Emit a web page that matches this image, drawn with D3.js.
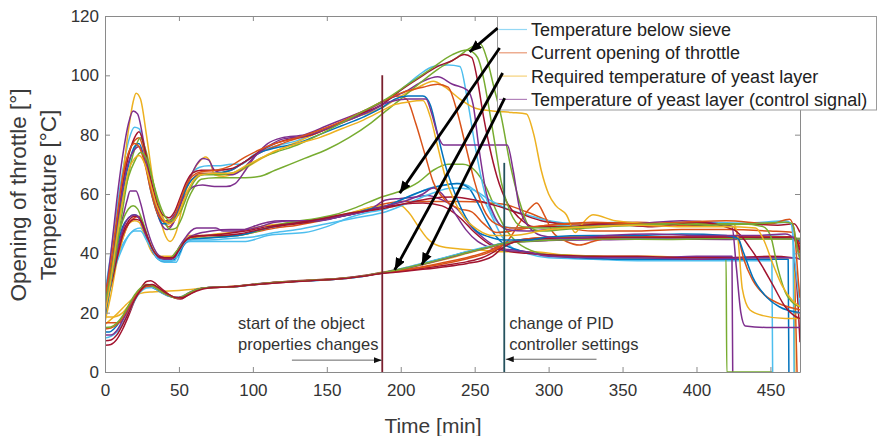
<!DOCTYPE html>
<html><head><meta charset="utf-8">
<script src="https://cdn.jsdelivr.net/npm/d3@7"></script>
<style>body{margin:0;background:#fff}svg{display:block}text{font-family:"Liberation Sans",Arial,Helvetica,sans-serif}</style>
</head><body><svg id="c" width="878" height="436"></svg>
<script>
// ---------- data ----------
const xTicks = [0,50,100,150,200,250,300,350,400,450];
const yTicks = [0,20,40,60,80,100,120];
const seriesNames = ["Temperature below sieve","Current opening of throttle","Required temperature of yeast layer","Temperature of yeast layer (control signal)"];
const legendColors = ["#4DBEEE","#D95319","#EDB120","#7E2F8E"];

// Temperature below sieve (one flat [t,v,t,v,...] list per run)
const sieveTemp = [
[0,27,4,40,8,55,12,68,16,78,20,82.5,23,82,27,74,31,63,35,55,39,51,43,50.5,47,52,51,57,55,63,59,67,64,69,70,69.5,78,69.5,85,70,92,70,100,73,108,75,118,76.5,130,78,145,81,160,84,175,87,187,90,200,95,212,100,222,103,232,103.5,240,103,245,92,250,77,256,62,262,53,270,49,280,48.5,300,49,330,50,360,49.5,390,50.5,420,50,445,50.5,460,51,464,50,467,35,470,22],
[0,22,4,34,8,50,12,64,16,74,20,78,23,79,27,73,31,63,35,55,39,51,43,49,47,51,51,56,55,62,59,65,65,67,75,67,85,68,95,71,105,74,115,76,125,78,140,80,155,83,170,86,187,91,198,93,204,92,210,84,216,74,222,64,230,58,240,55,248,54,256,50,265,47,280,48,300,49.5,330,50,360,50.5,390,49.5,410,50,425,49,428,46,432,38,438,31,446,26,456,23,470,21],
[0,18,4,30,8,48,12,66,16,82,19,91,21,94,24,92,28,80,32,66,36,55,40,47,44,44,48,47,52,55,56,63,60,68,64,71,68,72.5,71,71,74,66.5,80,66,88,67,96,69,106,72,118,75,132,78,150,82,170,86,187,89,200,93,212,96,222,98,230,96,240,92,250,89,262,88,275,87.5,285,87,290,80,295,68,300,60,305,56,312,53,318,47,322,49.5,330,53,345,51,370,50,400,50,425,50,428,45,431,28,436,21,445,19,460,18,470,18],
[0,24,4,40,8,58,12,73,16,84,19,88,22,87,26,78,30,66,34,56,38,50,42,48,46,50,50,55,54,61,58,66,62,70,66,72,70,71.5,74,68,80,67,86,66.5,92,68,100,72,110,77,120,79,135,80,150,83,165,86,180,89,192,92,205,95,215,98,225,99.5,235,97,245,95,249,90,253,75,258,60,264,52,272,48,285,47.5,300,48,330,49.5,360,50,390,51,415,50,424,49,427,35,430,20,433,15.5,450,15,470,15],
[0,22,4,30,8,42,12,55,16,67,20,75,24,79,28,74,32,65,36,57,40,51,44,48,48,48.5,52,52,56,58,60,62,65,65,75,65.5,85,65.5,95,65.5,105,66,115,68,125,70,135,72,150,75,165,79,180,84,190,88,200,92,212,97,225,102,238,106,248,109.5,254,110.5,258,106,263,96,268,86,274,70,280,58,287,49,295,47.5,310,48,340,49,370,49.5,400,50,430,50,445,49,450,46,455,35,460,27,466,23,470,22],
[0,19,4,30,8,46,12,60,16,70,20,76,23,77,27,71,31,61,35,54,39,50,43,50,47,52,51,57,55,62,59,65,65,66.5,75,67,85,68,95,71,105,74,115,75.5,130,77,145,80,160,83,175,86,187,89,196,92,205,93,215,93,220,90,225,80,230,70,236,61,242,54,250,48,260,45.5,270,44.5,285,44.5,300,45.5,330,46,360,46,390,46.5,420,46,428,45,432,40,438,32,446,26,456,22,470,20],
[0,20,4,32,8,48,12,63,16,73,20,79,23,81,27,75,31,65,35,57,39,53,43,52,47,54,51,59,55,64,59,67,65,68,75,68,85,68.5,95,71,105,74.5,115,77,125,78.5,140,80,155,83,170,86.5,187,90,200,95,212,99,225,103,235,105,243,107,248,106,252,98,256,86,260,76,265,66,272,57,280,52,290,49,310,49,340,50,370,49,400,50.5,425,48,430,46,436,42,444,36,452,29,460,22,466,19,470,18],
[0,21,4,33,8,48,12,62,16,71,20,75,23,76,27,71,31,62,35,55,39,51,43,51,47,53,51,57,55,60,60,62.5,66,63,74,62.5,82,62.5,88,63.5,95,68,102,73,110,76,120,78.5,135,79.5,150,82,165,85,180,88,192,91,205,92,217,92,221,87,225,80,229,76.5,240,76.5,255,76.5,272,76.5,276,68,280,56,285,50,295,46,310,45,340,46,370,46.5,400,46,440,46,460,46.5,466,45,470,38],
[0,25,4,37,8,52,12,66,16,74,20,77,23,76,27,70,31,61,35,54,39,51,43,50.5,47,52.5,51,58,55,63,59,66,65,67.5,75,68,85,69.5,95,72.5,105,75,115,77,130,79,145,81.5,160,84.5,175,88,187,91,200,94,215,96,225,97,232,96,238,88,244,76,250,64,256,55,264,50,275,48.5,300,49.5,330,50.5,360,50,390,50.5,420,51,450,50,463,51.5,466,48,469,30,470,25],
[0,23,4,33,8,46,12,58,16,66,20,71,24,74,28,72,32,65,36,58,40,53,44,51,48,52,52,55,56,60,60,64,66,66.5,75,66.5,85,67,95,69,105,72,115,74,130,76.5,145,80,160,84,175,88,190,92,205,97,220,102,235,107,245,108.5,252,106,256,99,260,88,264,76,268,64,274,54,282,49,295,48.5,320,49,350,49.5,380,50,410,49.5,440,50,460,50.5,465,50,468,42,470,38],
[0,20,4,31,8,45,12,58,16,68,20,72,23,73,27,70,31,63,35,56,39,52,43,50,47,51,51,55,55,60,59,64,65,66.5,75,67,85,67,95,69.5,105,72,115,74.5,130,77,145,79,160,82,175,85,187,88,195,90,205,91,215,91.5,220,86,225,76,230,66,236,58,243,52,252,48,262,46,275,46,300,48,330,49,360,49.5,390,49,420,49,440,48.5,445,45,452,36,458,29,465,24,470,22]
];
const sieveColors = ["#4DBEEE","#D95319","#EDB120","#7E2F8E","#77AC30","#0072BD","#A2142F","#7E2F8E","#D95319","#77AC30","#EDB120"];

// Current opening of throttle
const throttle = [
[0,30,4,33,8,38,12,43,16,46,20,48,24,48.5,28,45,32,41,36,38,40,37,48,37,51,40,54,43.5,58,44,70,44,85,44,95,44,100,44.5,110,46,120,46.5,135,47,150,49,165,52,180,54,190,55,200,58,210,60,220,62,230,63,240,63.5,248,62,256,58,262,52,268,46,275,42,285,40,300,38.5,330,38,360,37.5,390,37.5,420,37.5,440,37.5,451,37.5,451.5,0],
[0,24,4,30,8,38,12,45,16,50,20,52,23,52.5,27,48,31,42,35,39,38,38.5,44,38.5,48,40,52,43,56,45,62,45.5,75,46,88,46,100,47,115,48.5,130,49.5,150,51.5,170,54,187,56.5,200,57.5,220,57.5,240,57.5,260,57,270,56.5,285,54,300,51,315,48.5,330,47.5,360,47.5,390,48,420,48,450,47.5,465,47,467,20,468,0],
[0,17,4,26,8,37,12,45,16,50,20,51,23,50.5,27,46,31,41,35,39,40,39,45,39,49,41,53,44,57,46,65,46,75,46.5,85,47,95,48,105,49,120,50,135,51,150,52,165,53.5,180,55.5,190,56,200,56,205,54,212,49,218,45,226,42.5,240,41.5,255,41,270,40.5,290,40.5,310,39.5,340,39,370,39,400,38.5,430,38.5,466,38.5,466.5,0],
[0,25,4,33,8,43,12,52,15,58,17,61,21,61,24,57,28,49,32,43,36,39.5,40,38.5,46,38.5,50,42,54,45,58,47.5,62,48.5,75,48.5,80,47.5,90,47.5,100,49,110,50.5,120,51,135,51,150,52,165,53,180,55,190,58,200,58.5,210,59,218,59.5,228,58,238,55,246,50,254,46,262,43,270,41.5,280,41,290,40,310,39,340,38.5,370,38.5,400,39,424,39,424.5,0],
[0,28,4,35,8,44,12,51,16,55,19,56,22,55,26,50,30,44,34,40,38,38.5,44,38.5,48,40.5,52,43,56,44.5,62,45,75,45.5,90,46,100,47,112,49,125,50.5,140,51.5,155,53,170,55.5,187,59,200,61,212,64,222,68,232,70,242,70,250,68,258,62,264,55,270,49,278,44,288,41,300,39.5,330,39,360,38.5,390,38.5,420,38.5,420.5,0,451,0],
[0,26,4,33,8,42,12,49,16,52,20,53,23,52,27,47,31,42,35,38.5,39,37.5,45,37.5,49,39,53,42.5,57,44.5,65,45,80,45.5,95,46.5,105,48,120,49.5,135,50.5,150,51.5,165,53,180,55,190,56,200,58,212,60.5,225,62.5,238,63.5,246,62,252,57,258,51,264,46,270,43,280,41,295,39.5,320,38.5,350,38,380,38,410,38,440,38,462,38,462.5,0],
[0,24,4,31,8,40,12,47,16,51,20,52.5,23,52,27,47.5,31,42,35,39,40,38.5,46,38.5,50,41,54,44,58,45.5,66,46,78,46,90,46.5,100,47.5,115,49,130,50,150,51.5,170,53.5,187,55.5,200,56.5,215,57,228,56,240,52,250,47,260,43,270,41,285,40,300,39.5,330,39,360,39,390,38.5,420,38.5,450,39,465,38.5,469,20,470,10],
[0,22,4,30,8,40,12,48,16,52,20,53,23,52,27,47,31,42,35,39,39,38,45,38,49,40,53,43,57,45.5,62,46.5,72,47.5,85,48,95,48,105,49,115,50.5,130,51,145,51,160,52.5,175,54,190,56,205,58,215,60,222,62,228,60,236,54,244,48,252,44,260,42,270,41,285,40.5,300,39,330,38.5,360,38.5,400,38,440,38.5,466,38.5,470,38],
[0,27,4,31,8,37,12,42,16,46,20,47.5,24,47.5,28,44.5,32,41,36,38,40,37.5,47,37.5,50,40.5,54,43.5,58,44.5,70,44.5,85,45,100,45.5,115,47,130,48,150,50,170,52,190,54,205,57,220,60,235,62,248,61.5,260,58,272,55,285,53,300,51,320,50,350,50.5,380,50,410,50.5,440,50,462,50.5,465,49,466,0],
[0,23,4,29,8,38,12,46,16,50,20,51.5,24,51,28,46.5,32,41.5,36,39,40,38.5,46,38.5,50,41,54,44,58,45.5,68,46,80,46.5,95,47.5,110,49,125,50,145,51.5,165,53.5,187,55,205,57,220,58.5,235,59,250,58,265,56,280,53.5,295,51,310,50,340,49.5,370,50,400,49.5,430,50,455,49.5,466,50,470,47]
];
const throttleColors = ["#4DBEEE","#D95319","#EDB120","#7E2F8E","#77AC30","#0072BD","#A2142F","#7E2F8E","#4DBEEE","#A2142F"];

// Required temperature of yeast layer
const requiredTemp = [
[0,16,8,19.5,16,23.5,24,26.5,32,27,40,27.2,50,27.5,58,27.8,66,28.3,75,28.6,85,28.8,100,29.5,120,30.4,140,30.9,160,31.5,175,32.4,187,33.4,200,34.5,215,36.2,230,38,245,40,258,41.7,270,43.2,285,44.3,300,44.7,340,45,380,45,420,45,450,45,470,45],
[0,18.5,4,18.5,8,18.8,12,20,16,22.5,20,25.5,24,28,28,29,32,28.7,36,27.6,40,26.5,44,25.7,48,25.2,52,25.5,56,26.5,62,27.8,70,28.5,85,28.8,100,29.5,120,30.4,140,31,160,31.6,175,32.5,187,33.6,200,34.8,215,36.6,230,38.4,245,40.4,258,42,270,43.5,285,44.2,300,44.5,340,44.8,380,45,420,45,450,45,470,45]
];
const requiredColors = ["#EDB120","#EDB120"];

// Temperature of yeast layer (control signal)
const yeastTemp = [
[0,13.5,3,13.5,6,14.5,10,17,14,20.5,18,24,22,27,26,28.5,30,28.8,34,28,38,26.8,42,25.8,46,25.2,50,25,54,25.8,58,27,64,28,72,28.5,85,28.7,100,29.5,120,30.3,140,30.8,160,31.4,175,32.3,187,33.3,200,34.5,215,36.5,230,38.5,245,40.5,258,42,270,43.5,285,44.5,300,45,340,45.3,380,45.5,420,45.5,450,45.8,465,45.5,470,44],
[0,9,4,9.3,8,11,12,14.5,16,19,20,24,24,28,28,30.5,31,30.8,35,29.5,39,27.8,43,26.2,47,25,51,24.6,55,25.5,60,27,66,28.2,75,28.6,88,28.8,100,29.4,120,30.2,140,30.9,160,31.5,175,32.4,187,33.3,200,34,215,35,230,36,245,37.2,255,38.5,263,40.5,270,43,280,44.5,295,45.2,330,45.5,370,45.3,410,45.6,450,45.4,466,45.5,470,43],
[0,11.5,4,12,8,13.5,12,16.5,16,20,20,24,24,27,28,28.3,32,28.5,36,27.5,40,26.3,44,25.5,48,25.2,52,25.5,56,26.5,62,27.8,70,28.5,85,28.6,100,29.4,120,30.3,140,30.8,160,31.4,175,32.3,187,33.5,200,34.8,215,36.7,230,38.6,245,40.6,258,42.2,270,43.5,285,44.2,300,44.5,330,44.8,370,45,410,45,450,45.2,470,45],
[0,16.6,5,16.6,10,16.7,13,18.5,16,21,20,24.5,24,27.3,28,28.8,32,28.9,36,27.8,40,26.5,44,25.6,48,25,52,25.3,56,26.3,62,27.7,70,28.4,85,28.7,100,29.5,120,30.4,140,30.9,160,31.5,175,32.4,187,33.4,200,34.3,215,35.5,230,37,245,38.6,258,40.5,270,43,285,44.8,300,45.3,330,45.5,370,45.6,410,45.4,450,45.6,466,45.5,470,42],
[0,12.5,4,12.5,8,14,12,17.5,16,21.5,20,25.3,24,28,28,29.3,32,29.1,36,28,40,26.8,44,25.8,48,25.1,52,25.3,56,26.4,62,27.8,70,28.5,85,28.8,100,29.6,120,30.4,140,31,160,31.6,175,32.5,187,33.5,200,34.6,215,36.3,230,38.2,245,40.2,258,41.8,270,43.3,285,44,300,44.3,340,44.6,380,44.8,420,44.7,450,45,470,44.8],
[0,14.5,4,14.8,8,16,12,18.5,16,22,20,25.5,24,28,28,29.5,32,29.3,36,28.2,40,26.8,44,25.7,48,25,52,25.2,56,26.2,62,27.6,70,28.4,85,28.7,100,29.5,120,30.3,140,30.9,160,31.5,175,32.4,187,33.4,200,34.2,215,35.3,230,36.6,245,38.2,258,40,265,41.5,272,44,280,50,287,55,292,57,297,53,303,47,312,44,321,42.8,330,44,339,45,360,45.5,400,45.3,440,45.5,465,45.3,470,40],
[0,15,4,15.2,8,16.5,12,19,16,22.5,20,26,24,28.3,28,29.3,32,29,36,27.8,40,26.6,44,25.6,48,25,52,25.3,56,26.4,62,27.8,70,28.5,85,28.7,100,29.5,120,30.3,140,30.9,160,31.5,175,32.4,187,33.4,200,34.6,215,36.4,230,38.3,245,40.3,258,41.9,270,43.4,285,44,300,44.4,340,44.8,380,44.7,420,45,450,44.8,470,44.8],
[0,10.5,4,10.8,8,12.5,12,16,16,20,20,24.3,24,27.5,28,29.3,32,29.5,36,28.5,40,27,44,25.9,48,25.1,52,25,56,25.9,62,27.3,70,28.3,85,28.7,100,29.4,120,30.2,140,30.8,160,31.4,175,32.3,187,33.2,200,33.8,215,34.6,230,35.5,245,36.6,255,37.6,262,39,268,41.5,275,43.5,285,44.5,300,45,340,45.3,380,45.4,420,45.5,450,45.4,466,45.5,470,41]
];
const yeastColors = ["#0072BD","#A2142F","#4DBEEE","#D95319","#7E2F8E","#D95319","#77AC30","#A2142F"];

// annotations (data coordinates)
const markerTimes = [187.5, 270];
const markerTops = [100, 70.5];
const blackArrows = [[265.5,115.9,246.6,107.9],[266.9,109.2,199.3,60.3],[268.9,100.8,195.9,34.4],[270.3,92.3,214.2,36.1]];
const noteLines1 = ["start of the object","properties changes"];
const noteLines2 = ["change of PID","controller settings"];

// ---------- drawing ----------
const svg = d3.select("#c");
const m = {l:105, r:800, t:16, b:372};
const x = d3.scaleLinear().domain([0,470]).range([m.l, m.r]);
const y = d3.scaleLinear().domain([0,120]).range([m.b, m.t]);
const axisCol = "#8a8a8a", textCol = "#333";

const pairs = a => { const p=[]; for(let i=0;i<a.length;i+=2) p.push([a[i],a[i+1]]); return p; };
const line = d3.line().x(d=>x(d[0])).y(d=>y(d[1])).curve(d3.curveMonotoneX);

svg.append("defs").append("clipPath").attr("id","pc").append("rect")
  .attr("x",m.l).attr("y",m.t-2).attr("width",m.r-m.l).attr("height",m.b-m.t+3);

const g = svg.append("g").attr("clip-path","url(#pc)");
function drawSet(set, cols){
  set.forEach((s,i)=>{
    g.append("path").attr("d", line(pairs(s))).attr("fill","none")
      .attr("stroke", cols[i % cols.length]).attr("stroke-width",1.5).attr("stroke-linejoin","round");
  });
}
drawSet(throttle, throttleColors);
drawSet(requiredTemp, requiredColors);
drawSet(yeastTemp, yeastColors);
drawSet(sieveTemp, sieveColors);

// axes (ticks inward, box)
function styleAxis(sel){
  sel.selectAll("path.domain").attr("stroke",axisCol);
  sel.selectAll(".tick line").attr("stroke",axisCol);
  sel.selectAll("text").attr("fill",textCol).style("font-size","17px");
}
svg.append("g").attr("transform",`translate(0,${m.b})`)
  .call(d3.axisBottom(x).tickValues(xTicks).tickSize(-5).tickSizeOuter(0).tickPadding(12)).call(styleAxis);
svg.append("g").attr("transform",`translate(0,${m.t})`)
  .call(d3.axisTop(x).tickValues(xTicks).tickSize(-5).tickSizeOuter(0).tickFormat("")).call(styleAxis);
svg.append("g").attr("transform",`translate(${m.l},0)`)
  .call(d3.axisLeft(y).tickValues(yTicks).tickSize(-5).tickSizeOuter(0).tickPadding(6)).call(styleAxis);
svg.append("g").attr("transform",`translate(${m.r},0)`)
  .call(d3.axisRight(y).tickValues(yTicks).tickSize(-5).tickSizeOuter(0).tickFormat("")).call(styleAxis);
svg.selectAll(".tick text").attr("font-family","Liberation Sans, Arial, sans-serif");

// vertical event lines
const evCols = ["#7a1f2e","#24525e"];
markerTimes.forEach((t,i)=>{
  svg.append("line").attr("x1",x(t)).attr("x2",x(t)).attr("y1",y(markerTops[i])).attr("y2",y(0))
    .attr("stroke",evCols[i]).attr("stroke-width",1.8);
});

// markers
const defs = svg.select("defs");
defs.append("marker").attr("id","bh").attr("markerUnits","userSpaceOnUse")
  .attr("viewBox","0 0 12 10").attr("refX",12).attr("refY",5).attr("markerWidth",12).attr("markerHeight",10)
  .attr("orient","auto").append("path").attr("d","M0,0L12,5L0,10Z").attr("fill","#000");
defs.append("marker").attr("id","sh").attr("markerUnits","userSpaceOnUse")
  .attr("viewBox","0 0 8 6").attr("refX",8).attr("refY",3).attr("markerWidth",8).attr("markerHeight",6)
  .attr("orient","auto").append("path").attr("d","M0,0L8,3L0,6Z").attr("fill","#111");

// annotation text + thin arrows
function note(lines, tx, ty){
  lines.forEach((s,i)=>svg.append("text").attr("x",tx).attr("y",ty+i*20.5)
    .attr("fill","#333").style("font-size","16.5px").text(s));
}
note(noteLines1, x(90), y(14.4));
note(noteLines2, x(273.3), y(14.4));
svg.append("line").attr("x1",x(126.4)).attr("y1",y(4)).attr("x2",x(187.2)).attr("y2",y(4))
  .attr("stroke","#666").attr("stroke-width",1).attr("marker-end","url(#sh)");
svg.append("line").attr("x1",x(332.4)).attr("y1",y(4.3)).attr("x2",x(271)).attr("y2",y(4.3))
  .attr("stroke","#666").attr("stroke-width",1).attr("marker-end","url(#sh)");

// legend
const lg = svg.append("g");
lg.append("rect").attr("x",497.5).attr("y",16.5).attr("width",379).attr("height",93.5)
  .attr("fill","#fff").attr("stroke","#9a9a9a").attr("stroke-width",1);
seriesNames.forEach((s,i)=>{
  const cy = 29.5 + i*23.3;
  lg.append("line").attr("x1",499).attr("x2",527).attr("y1",cy).attr("y2",cy)
    .attr("stroke",legendColors[i]).attr("stroke-width",1.2).attr("stroke-opacity",0.6);
  lg.append("text").attr("x",531).attr("y",cy+6.5).attr("fill","#222").style("font-size","18px").text(s);
});

// black arrows
blackArrows.forEach(a=>{
  svg.append("line").attr("x1",x(a[0])).attr("y1",y(a[1])).attr("x2",x(a[2])).attr("y2",y(a[3]))
    .attr("stroke","#000").attr("stroke-width",2.8).attr("marker-end","url(#bh)");
});

// axis titles
svg.append("text").attr("transform",`translate(26,195) rotate(-90)`).attr("text-anchor","middle")
  .attr("fill","#3a3a3a").style("font-size","22.5px").text("Opening of throttle [°]");
svg.append("text").attr("transform",`translate(56,195) rotate(-90)`).attr("text-anchor","middle")
  .attr("fill","#3a3a3a").style("font-size","22.5px").text("Temperature [°C]");
svg.append("text").attr("x",433).attr("y",433).attr("text-anchor","middle")
  .attr("fill","#3a3a3a").style("font-size","21px").text("Time [min]");
</script></body></html>
